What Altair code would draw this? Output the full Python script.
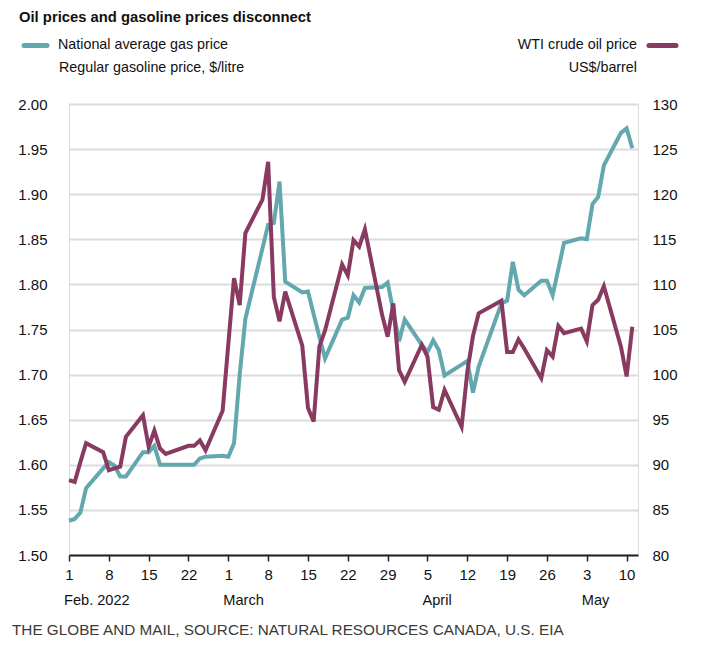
import altair as alt
import pandas as pd

# ---------------- text ----------------
title_text = "Oil prices and gasoline prices disconnect"
gas_label = "National average gas price"
gas_unit = "Regular gasoline price, $/litre"
oil_label = "WTI crude oil price"
oil_unit = "US$/barrel"
source_text = "THE GLOBE AND MAIL, SOURCE: NATURAL RESOURCES CANADA, U.S. EIA"

# ---------------- data ----------------
gas_dates = [
    "2022-02-01", "2022-02-02", "2022-02-03", "2022-02-04", "2022-02-07", "2022-02-08",
    "2022-02-09", "2022-02-10", "2022-02-11", "2022-02-14", "2022-02-15", "2022-02-16",
    "2022-02-17", "2022-02-18", "2022-02-22", "2022-02-23", "2022-02-24", "2022-02-25",
    "2022-02-28", "2022-03-01", "2022-03-02", "2022-03-03", "2022-03-04", "2022-03-07",
    "2022-03-08", "2022-03-09", "2022-03-10", "2022-03-11", "2022-03-14", "2022-03-15",
    "2022-03-16", "2022-03-17", "2022-03-18", "2022-03-21", "2022-03-22", "2022-03-23",
    "2022-03-24", "2022-03-25", "2022-03-28", "2022-03-29", "2022-03-30", "2022-03-31",
    "2022-04-01", "2022-04-04", "2022-04-05", "2022-04-06", "2022-04-07", "2022-04-08",
    "2022-04-11", "2022-04-12", "2022-04-13", "2022-04-14", "2022-04-18", "2022-04-19",
    "2022-04-20", "2022-04-21", "2022-04-22", "2022-04-25", "2022-04-26", "2022-04-27",
    "2022-04-28", "2022-04-29", "2022-05-02", "2022-05-03", "2022-05-04", "2022-05-05",
    "2022-05-06", "2022-05-09", "2022-05-10", "2022-05-11",
]
gas_prices = [
    1.538, 1.540, 1.547, 1.574, 1.596, 1.603,
    1.599, 1.587, 1.587, 1.614, 1.614, 1.621,
    1.600, 1.600, 1.600, 1.600, 1.607, 1.609,
    1.610, 1.609, 1.624, 1.700, 1.762, 1.840,
    1.866, 1.868, 1.914, 1.803, 1.791, 1.792,
    1.767, 1.742, 1.718, 1.761, 1.763, 1.788,
    1.780, 1.796, 1.797, 1.802, 1.770, 1.737,
    1.761, 1.733, 1.725, 1.738, 1.727, 1.699,
    1.711, 1.715, 1.680, 1.709, 1.779, 1.782,
    1.825, 1.794, 1.788, 1.804, 1.804, 1.788,
    1.817, 1.846, 1.851, 1.850, 1.889, 1.897,
    1.932, 1.968, 1.973, 1.951,
]

oil_dates = [
    "2022-02-01", "2022-02-02", "2022-02-03", "2022-02-04", "2022-02-07", "2022-02-08",
    "2022-02-09", "2022-02-10", "2022-02-11", "2022-02-14", "2022-02-15", "2022-02-16",
    "2022-02-17", "2022-02-18", "2022-02-22", "2022-02-23", "2022-02-24", "2022-02-25",
    "2022-02-28", "2022-03-01", "2022-03-02", "2022-03-03", "2022-03-04", "2022-03-07",
    "2022-03-08", "2022-03-09", "2022-03-10", "2022-03-11", "2022-03-14", "2022-03-15",
    "2022-03-16", "2022-03-17", "2022-03-18", "2022-03-21", "2022-03-22", "2022-03-23",
    "2022-03-24", "2022-03-25", "2022-03-28", "2022-03-29", "2022-03-30", "2022-03-31",
    "2022-04-01", "2022-04-04", "2022-04-05", "2022-04-06", "2022-04-07", "2022-04-08",
    "2022-04-11", "2022-04-12", "2022-04-13", "2022-04-14", "2022-04-18", "2022-04-19",
    "2022-04-20", "2022-04-21", "2022-04-22", "2022-04-25", "2022-04-26", "2022-04-27",
    "2022-04-28", "2022-04-29", "2022-05-02", "2022-05-03", "2022-05-04", "2022-05-05",
    "2022-05-06", "2022-05-09", "2022-05-10", "2022-05-11",
]
oil_prices = [
    88.3, 88.1, 90.3, 92.4, 91.4, 89.4,
    89.6, 89.8, 93.1, 95.5, 92.0, 93.8,
    91.8, 91.2, 92.1, 92.1, 92.7, 91.6,
    96.0, 103.4, 110.7, 107.7, 115.7, 119.4,
    123.6, 108.6, 105.9, 109.2, 103.2, 96.3,
    94.8, 103.1, 104.9, 112.2, 111.0, 114.9,
    114.2, 116.1, 106.7, 104.2, 107.9, 100.5,
    99.2, 103.3, 102.0, 96.4, 96.1, 98.3,
    94.2, 100.3, 104.3, 106.8, 108.2, 102.5,
    102.5, 103.9, 102.9, 99.6, 102.7, 102.0,
    105.4, 104.6, 105.1, 103.7, 107.7, 108.3,
    109.8, 103.1, 99.8, 105.3,
]

tick_dates = [
    (2, 1), (2, 8), (2, 15), (2, 22), (3, 1), (3, 8), (3, 15), (3, 22), (3, 29),
    (4, 5), (4, 12), (4, 19), (4, 26), (5, 3), (5, 10),
]
month_dates = ["2022-02-01", "2022-03-01", "2022-04-05", "2022-05-03"]
month_labels = ["Feb. 2022", "March", "April", "May"]
gas_ticks = [1.50, 1.55, 1.60, 1.65, 1.70, 1.75, 1.80, 1.85, 1.90, 1.95, 2.00]
oil_ticks = [80, 85, 90, 95, 100, 105, 110, 115, 120, 125, 130]

# ---------------- style ----------------
TEAL = "#63a7af"
PURPLE = "#883a60"
FONT = "Liberation Sans, Arial, sans-serif"
FS = 15
LS = 14.3
W, H = 569, 451

gas_df = pd.DataFrame({"date": pd.to_datetime(gas_dates), "price": gas_prices})
oil_df = pd.DataFrame({"date": pd.to_datetime(oil_dates), "price": oil_prices})
month_df = pd.DataFrame({"date": pd.to_datetime(month_dates), "label": month_labels})

x_scale = alt.Scale(domain=[alt.DateTime(year=2022, month=2, date=1),
                            alt.DateTime(year=2022, month=5, date=12)])
x_axis = alt.Axis(
    values=[alt.DateTime(year=2022, month=m, date=d) for m, d in tick_dates],
    format="%-d", title=None, grid=False,
    domainColor="#222222", domainWidth=2, tickColor="#222222", tickWidth=1.5,
    tickSize=6, labelFontSize=FS, labelFont=FONT, labelColor="#111111",
    labelPadding=6, labelFlush=False,
)

gas_line = alt.Chart(gas_df).mark_line(
    color=TEAL, strokeWidth=4, strokeJoin="miter", strokeCap="butt"
).encode(
    x=alt.X("date:T", scale=x_scale, axis=x_axis),
    y=alt.Y("price:Q", scale=alt.Scale(domain=[1.5, 2.0]),
            axis=alt.Axis(orient="left", values=gas_ticks, format=".2f", title=None,
                          domain=False, ticks=False, grid=True, gridColor="#dcdcdc",
                          gridWidth=2, labelFontSize=FS, labelFont=FONT,
                          labelColor="#111111", labelPadding=22)),
)

oil_line = alt.Chart(oil_df).mark_line(
    color=PURPLE, strokeWidth=4, strokeJoin="miter", strokeCap="butt"
).encode(
    x=alt.X("date:T", scale=x_scale, axis=x_axis),
    y=alt.Y("price:Q", scale=alt.Scale(domain=[80, 130]),
            axis=alt.Axis(orient="right", values=oil_ticks, format="d", title=None,
                          domain=False, ticks=False, grid=False, labelFontSize=FS,
                          labelFont=FONT, labelColor="#111111", labelPadding=14)),
)

months = alt.Chart(month_df).mark_text(
    align="left", baseline="middle", dx=-5, fontSize=14.6, font=FONT, color="#111111"
).encode(
    x=alt.X("date:T", scale=x_scale),
    y=alt.value(H + 46),
    text="label:N",
)


def label(txt, x, y, align="left", size=LS, weight="normal", color="#111111",
          baseline="alphabetic"):
    return alt.Chart(pd.DataFrame({"t": [txt]})).mark_text(
        align=align, baseline=baseline, fontSize=size, fontWeight=weight,
        font=FONT, color=color,
    ).encode(text="t:N", x=alt.value(x), y=alt.value(y))


def swatch(x1, x2, y, color):
    return alt.Chart(pd.DataFrame({"s": [0]})).mark_rule(
        color=color, strokeWidth=5, strokeCap="round"
    ).encode(x=alt.value(x1), x2=alt.value(x2), y=alt.value(y))


title = label(title_text, -50, -82.5, size=14.8, weight="bold")
leg_gas = label(gas_label, -11, -54.7)
leg_gas_unit = label(gas_unit, -10, -32.3)
leg_oil = label(oil_label, 568, -54.7, align="right")
leg_oil_unit = label(oil_unit, 568, -32.3, align="right")
sw_gas = swatch(-45, -22, -58.5, TEAL)
sw_oil = swatch(580, 607, -58.5, PURPLE)
source = label(source_text, -57, 526, size=15.3, color="#3a3a3a", baseline="middle")

chart = alt.layer(
    gas_line, oil_line, months, title, leg_gas, leg_gas_unit, leg_oil, leg_oil_unit,
    sw_gas, sw_oil, source,
).resolve_scale(y="independent").properties(
    width=W, height=H,
    padding={"left": 61, "top": 96, "right": 60, "bottom": 82},
    autosize=alt.AutoSizeParams(type="none"),
).configure_view(stroke=None).configure(background="white")

chart.save("out.html", embed_options={"renderer": "svg", "actions": False})
